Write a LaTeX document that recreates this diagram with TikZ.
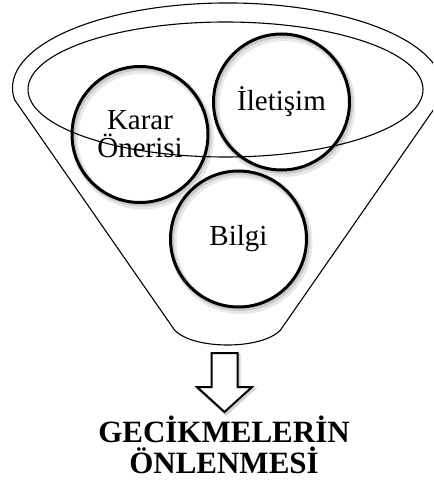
\documentclass[tikz,border=0pt]{standalone}
\usepackage{fontspec}
\setmainfont{Liberation Serif}
\usetikzlibrary{positioning,calc,backgrounds}
\definecolor{ShadowGray}{HTML}{9E9E9E}

\begin{document}
\begin{tikzpicture}[x=1pt,y=-1pt,
        bubble/.style={circle, draw=black, line width=3pt, minimum size=136pt, inner sep=0pt, align=center, font=\fontsize{29}{28}\selectfont},
        funnelline/.style={line width=1.1pt, line join=round}]
        \useasboundingbox (0,0) rectangle (433,481);
        \clip (0,0) rectangle (433,481);
        \node[bubble] (karar) at (140,134.5) {Karar\\Önerisi};
        \node[bubble] (iletisim) at (281.5,102) {İletişim};
        \node[bubble] (bilgi) at (238.5,239) {Bilgi};
        \begin{scope}[on background layer]
            \foreach \n in {karar,iletisim,bilgi}{
                \draw[ShadowGray!25, line width=7pt] ([shift={(2.5,3.5)}]\n.center) circle[radius=68];
                \draw[ShadowGray!55, line width=4pt] ([shift={(1.5,2)}]\n.center) circle[radius=68];
            }
        \end{scope}
        \draw[funnelline] (14.6,99.8) arc[start angle=172, end angle=368, x radius=215, y radius=85]
            -- (280.5,330) .. controls (262,350) and (193,350) .. (174.5,330) -- cycle;
        \draw[funnelline] (225.5,89.5) ellipse[x radius=197.5, y radius=67.5];
        \coordinate (oktepe) at (224.5,353);
        \draw[ShadowGray!45, line width=3pt, line join=miter] ([shift={(1.5,2)}]oktepe) ++(-13,0) -- ++(26,0) -- ++(0,34) -- ++(14.5,0)
            -- ++(-27.5,25) -- ++(-27.5,-25) -- ++(14.5,0) -- cycle;
        \draw[line width=2pt, line join=miter, fill=white] (oktepe) ++(-13,0) -- ++(26,0) -- ++(0,34) -- ++(14.5,0)
            -- ++(-27.5,25) -- ++(-27.5,-25) -- ++(14.5,0) -- cycle;
        \node[font=\fontsize{31}{31}\selectfont\bfseries, align=center, anchor=base] (baslik) at (224,473) {GECİKMELERİN\\ÖNLENMESİ};
    \end{tikzpicture}
\end{document}
